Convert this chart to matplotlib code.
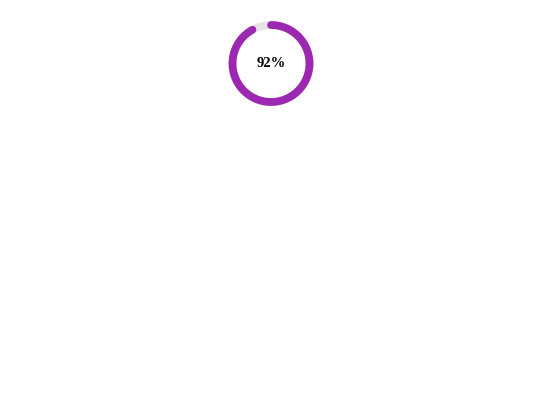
import numpy as np
import matplotlib
matplotlib.use('Agg')
import matplotlib.pyplot as plt

# gauge value
value = 92
total = 100
label = '92%'

fig = plt.figure(figsize=(5.4, 4.05), dpi=100)
ax = fig.add_axes([221 / 540, (405 - 63.5 - 50) / 405, 100 / 540, 100 / 405])
ax.set_xlim(-50, 50)
ax.set_ylim(-50, 50)
ax.set_aspect('equal')
ax.axis('off')

r = 38.5
lw = 5.6

# background ring
t = np.linspace(0, 2 * np.pi, 400)
ax.plot(r * np.cos(t), r * np.sin(t), color='#e5e5e5', lw=lw)

# value arc, clockwise from the top
frac = value / total
t = np.linspace(np.pi / 2, np.pi / 2 - 2 * np.pi * frac, 400)
ax.plot(r * np.cos(t), r * np.sin(t), color='#9c27b0', lw=lw, solid_capstyle='round')

ax.text(0, 0, label, ha='center', va='center', fontsize=10.5, fontweight='bold',
        family='Liberation Serif')

fig.savefig('out.png', dpi=100)
